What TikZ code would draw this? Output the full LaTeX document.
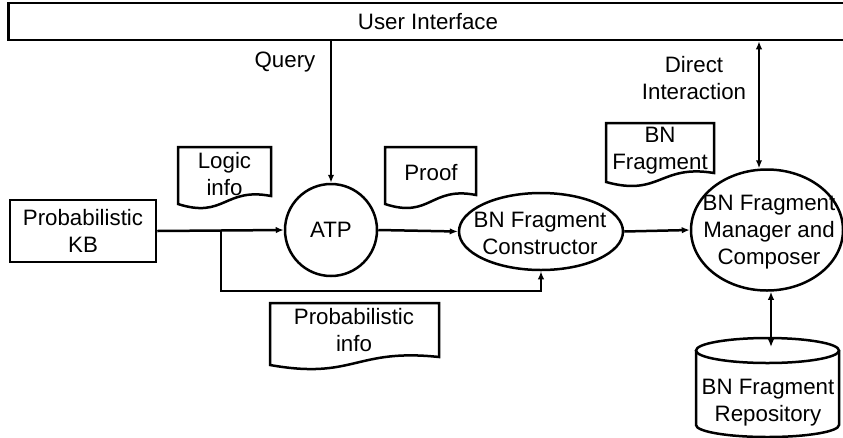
\documentclass[tikz,border=0pt]{standalone}
\usepackage{fontspec}
\setmainfont{Liberation Sans}
\usetikzlibrary{shapes.geometric,arrows.meta,calc}

% Document symbol: flat top, straight sides, wavy bottom edge.
% #1 left, #2 top, #3 right, #4 bottom-right y, #5 bottom-left y
\newcommand\docoutline[5]{%
  \draw[docline] (#1,#2) -- (#3,#2) -- (#3,#4)
    .. controls ({#3-(#3-#1)*0.5},{#4-9}) and ({#1+(#3-#1)*0.5},{#5+15}) .. (#1,#5)
    -- cycle;}

\begin{document}
\begin{tikzpicture}[x=1pt,y=-1pt,
  line width=2.5pt,
  lbl/.style={font=\fontsize{22.3}{27}\selectfont, align=center, inner sep=0pt},
  box/.style={draw, rectangle, inner sep=0pt, lbl},
  proc/.style={draw, ellipse, inner sep=0pt, lbl},
  atpnode/.style={draw, circle, inner sep=0pt, lbl},
  docline/.style={line join=miter},
  arr/.style={-{Latex[length=8pt,width=6.5pt]}},
  darr/.style={{Latex[length=8pt,width=6.5pt]}-{Latex[length=8pt,width=6.5pt]}},
]
\useasboundingbox (0,0) rectangle (843,437);

% user interface bar (runs off the right edge)
\node[box, anchor=west, minimum width=860pt, minimum height=37pt] (ui) at (7,21.5) {};
\node[lbl] (uitext) at (428,22) {User Interface};

% main processing chain
\node[box, minimum width=146pt, minimum height=62pt] (kb) at (83,231) {Probabilistic\\KB};
\node[atpnode, minimum size=92pt] (atp) at (331,230) {ATP};
\node[proc, minimum width=164pt, minimum height=77pt] (cons) at (541,231.5) {};
\node[lbl] (constext) at (540,233) {BN Fragment\\Constructor};
\node[proc, minimum width=152pt, minimum height=121pt] (mgr) at (767,230) {};
\node[lbl] (mgrtext) at (769,232) {BN Fragment\\Manager and\\Composer};

% repository cylinder
\draw (696,350.5) -- (696,425) arc[start angle=180, end angle=360, x radius=71.5, y radius=-12]
      -- (839,350.5);
\draw (767.5,350.5) ellipse[x radius=71.5, y radius=12.5];
\node[lbl] (repo) at (768,403) {BN Fragment\\Repository};
\coordinate (repotop) at (771,347);

% data documents
\docoutline{178}{147}{271}{196}{204}
\node[lbl] (logic) at (224.5,174) {Logic\\info};
\docoutline{385}{147}{476}{195}{204}
\node[lbl] (proof) at (431,173) {Proof};
\docoutline{606}{123}{714}{173}{182}
\node[lbl] (bnfrag) at (660,151) {BN\\Fragment};
\docoutline{270}{303}{439}{357}{365}
\node[lbl] (probinfo) at (354,330.5) {Probabilistic\\info};

% flow labels
\node[lbl] (query) at (285,62) {Query};
\node[lbl] (direct) at (694,78.5) {Direct\\Interaction};

% connectors
\coordinate (split) at (221,231);
\coordinate (corner) at (221,291);
\coordinate (direct top) at (759,0);
\draw[arr] (ui.south -| atp) -- (atp.north);
\draw[darr] (direct top |- ui.south) -- (direct top |- mgr.north);
\draw[arr] (kb.east) -- (atp.west);
\draw[arr] (split) -- (corner) -| (cons.south);
\draw[arr] (atp.east) -- (cons.west);
\draw[arr] (cons.east) -- (mgr.west);
\draw[darr] (repotop |- mgr.south) -- (repotop);
\end{tikzpicture}
\end{document}
